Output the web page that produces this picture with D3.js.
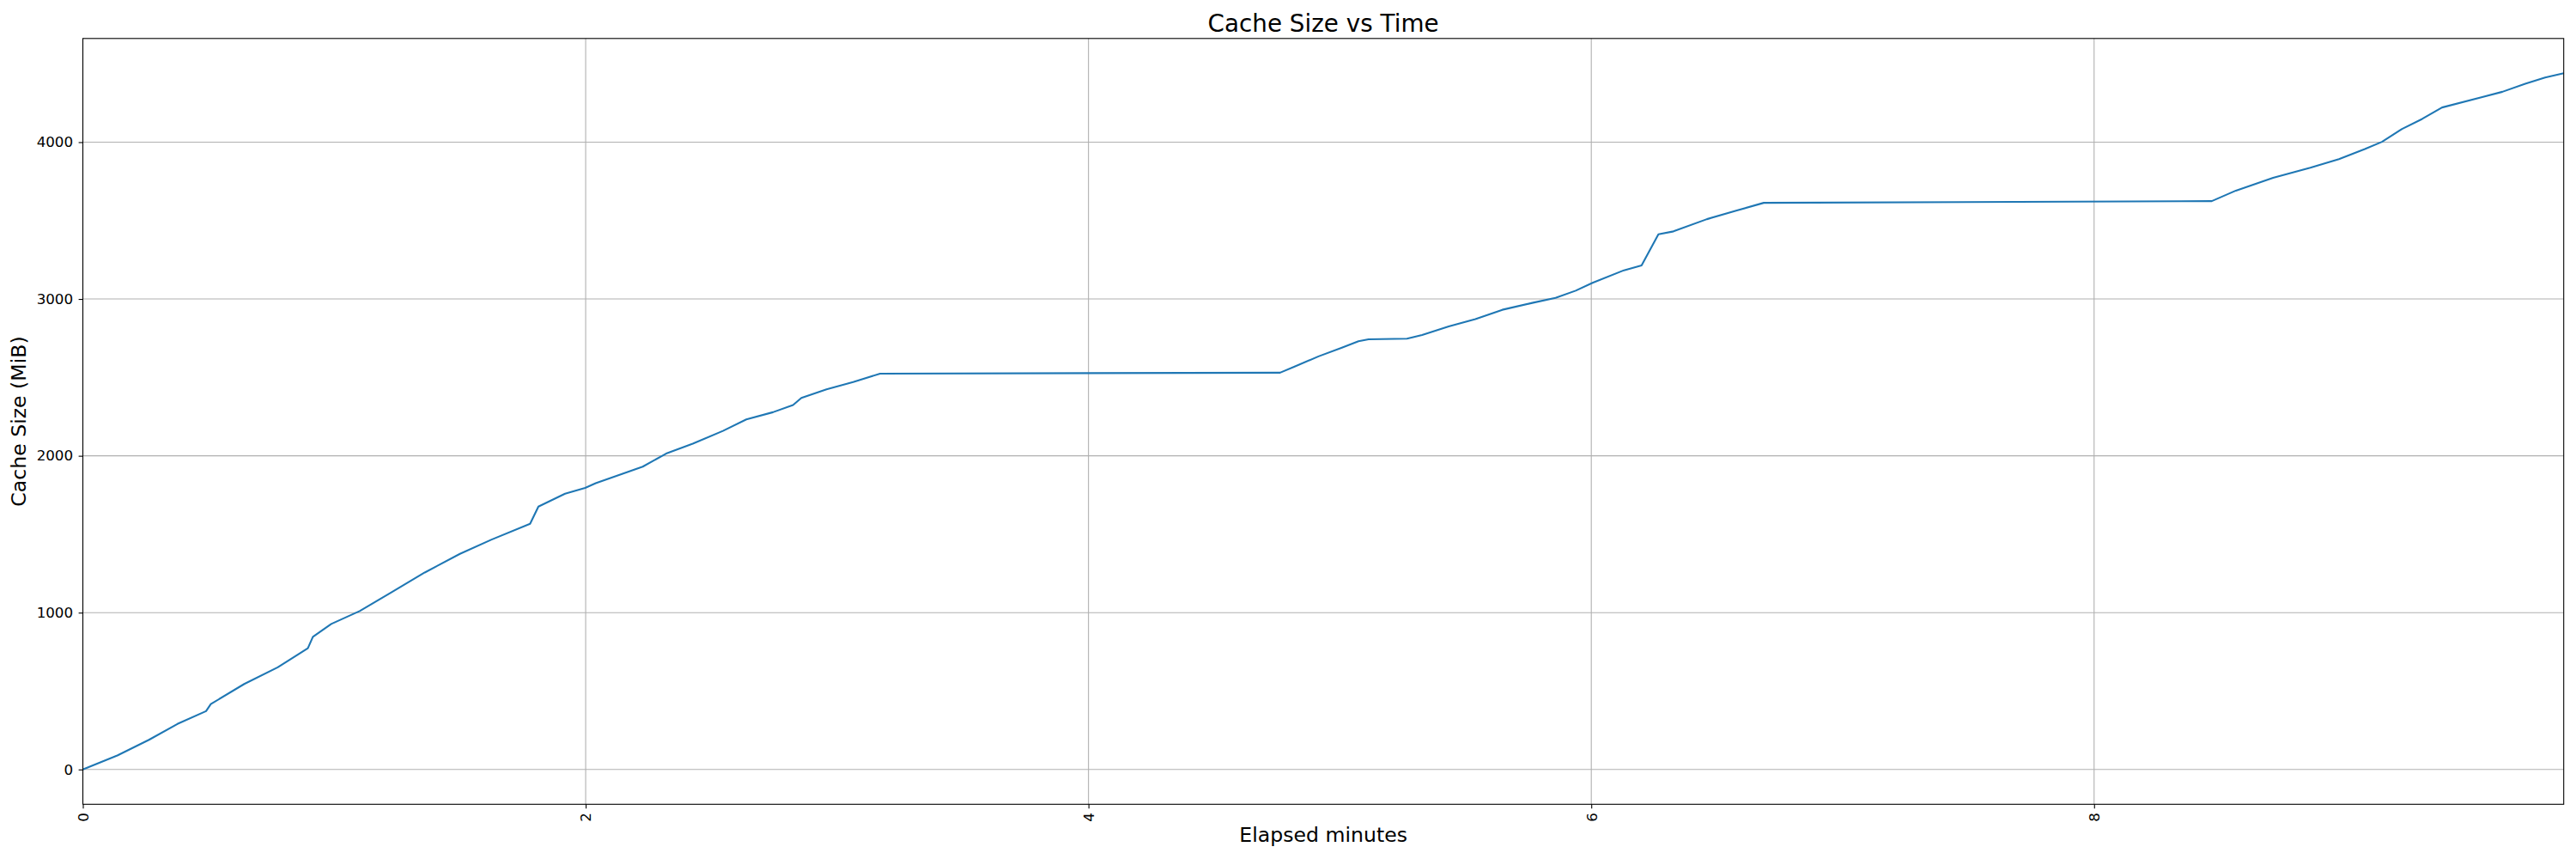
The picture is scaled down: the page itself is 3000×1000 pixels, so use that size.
<!DOCTYPE html>
<html>
<head>
<meta charset="utf-8">
<script src="https://cdn.jsdelivr.net/npm/d3@7"></script>
<style>
  body { margin: 0; background: #fff; }
  svg { display: block; font-family: "DejaVu Sans", sans-serif; }
</style>
</head>
<body>
<svg id="chart" width="3000" height="1000"></svg>
<script>
// ---- data ----
const minutes = [0, 0.137, 0.263, 0.376, 0.490, 0.509, 0.642, 0.775, 0.895, 0.915, 0.988, 1.101, 1.227, 1.360, 1.500, 1.626, 1.779, 1.812, 1.918, 1.998, 2.040, 2.147, 2.227, 2.320, 2.426, 2.546, 2.639, 2.745, 2.825, 2.858, 2.958, 3.064, 3.171, 4.762, 4.822, 4.915, 5.008, 5.074, 5.114, 5.267, 5.327, 5.433, 5.539, 5.646, 5.765, 5.858, 5.938, 6.005, 6.130, 6.200, 6.267, 6.327, 6.460, 6.579, 6.686, 8.468, 8.564, 8.712, 8.860, 8.974, 9.077, 9.145, 9.225, 9.305, 9.384, 9.544, 9.624, 9.715, 9.794, 9.868];
const cacheMiB = [0, 89, 189, 290, 372, 417, 545, 651, 773, 846, 928, 1010, 1129, 1256, 1375, 1466, 1567, 1676, 1758, 1795, 1825, 1886, 1931, 2014, 2077, 2159, 2232, 2278, 2324, 2369, 2424, 2470, 2524, 2530, 2570, 2634, 2689, 2730, 2743, 2747, 2770, 2825, 2871, 2931, 2975, 3007, 3053, 3103, 3183, 3214, 3412, 3431, 3509, 3564, 3613, 3624, 3691, 3773, 3837, 3892, 3956, 4002, 4084, 4148, 4221, 4288, 4321, 4372, 4412, 4439];
const xTicks = [0, 2, 4, 6, 8];
const yTicks = [0, 1000, 2000, 3000, 4000];
const titleText = "Cache Size vs Time";
const xLabelText = "Elapsed minutes";
const yLabelText = "Cache Size (MiB)";

// ---- layout ----
const L = 96.5, R = 2985.7, T = 44.8, B = 936.3;
const svg = d3.select("#chart");

const yMin = d3.min(cacheMiB), yMax = d3.max(cacheMiB);
const pad = (yMax - yMin) * 0.05;
const x = d3.scaleLinear().domain([d3.min(minutes), d3.max(minutes)]).range([L, R]);
const y = d3.scaleLinear().domain([yMin - pad, yMax + pad]).range([B, T]);

// grid
const grid = svg.append("g");
grid.selectAll("line.gx").data(xTicks).join("line")
  .attr("x1", d => x(d)).attr("x2", d => x(d)).attr("y1", T).attr("y2", B)
  .attr("stroke", "#b0b0b0").attr("stroke-width", 1.1);
grid.selectAll("line.gy").data(yTicks).join("line")
  .attr("x1", L).attr("x2", R).attr("y1", d => y(d)).attr("y2", d => y(d))
  .attr("stroke", "#b0b0b0").attr("stroke-width", 1.1);

// line
const pts = minutes.map((m, i) => [m, cacheMiB[i]]);
svg.append("path")
  .datum(pts)
  .attr("fill", "none")
  .attr("stroke", "#1f77b4")
  .attr("stroke-width", 2.1)
  .attr("stroke-linejoin", "round")
  .attr("d", d3.line().x(d => x(d[0])).y(d => y(d[1])));

// axes
const xAxis = d3.axisBottom(x).tickValues(xTicks).tickFormat(d3.format("d")).tickSize(4.9).tickPadding(4.9);
const gx = svg.append("g").attr("transform", `translate(0,${B})`).call(xAxis);
gx.select(".domain").remove();
gx.selectAll(".tick line").attr("stroke", "#000").attr("stroke-width", 1.1);
gx.selectAll(".tick text")
  .attr("font-size", 16.7).attr("fill", "#000")
  .attr("font-family", "DejaVu Sans")
  .attr("text-anchor", "end")
  .attr("transform", "rotate(-90)")
  .attr("x", -9.8).attr("y", 0).attr("dy", "0.35em");

const yAxis = d3.axisLeft(y).tickValues(yTicks).tickFormat(d3.format("d")).tickSize(4.9).tickPadding(6.5);
const gy = svg.append("g").attr("transform", `translate(${L},0)`).call(yAxis);
gy.select(".domain").remove();
gy.selectAll(".tick line").attr("stroke", "#000").attr("stroke-width", 1.1);
gy.selectAll(".tick text").attr("font-size", 16.7).attr("fill", "#000").attr("font-family", "DejaVu Sans");

// frame
svg.append("rect").attr("x", L).attr("y", T).attr("width", R - L).attr("height", B - T)
  .attr("fill", "none").attr("stroke", "#000").attr("stroke-width", 1.1);

// texts
svg.append("text").attr("x", (L + R) / 2).attr("y", 36.5).attr("text-anchor", "middle")
  .attr("font-size", 27.8).attr("fill", "#000").text(titleText);
svg.append("text").attr("x", (L + R) / 2).attr("y", 980).attr("text-anchor", "middle")
  .attr("font-size", 23.6).attr("fill", "#000").text(xLabelText);
svg.append("text").attr("transform", `translate(30,${(T + B) / 2}) rotate(-90)`).attr("text-anchor", "middle")
  .attr("font-size", 23.6).attr("fill", "#000").text(yLabelText);
</script>
</body>
</html>
